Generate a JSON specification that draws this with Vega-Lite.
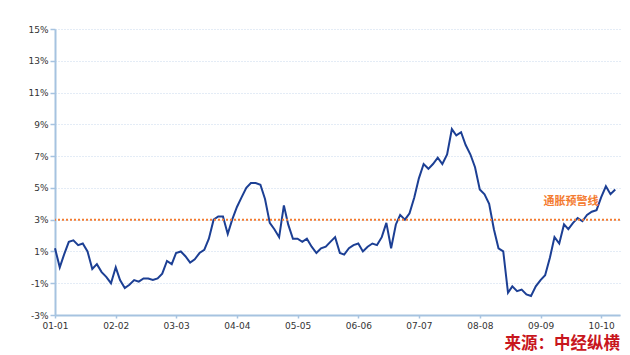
{
  "$schema": "https://vega.github.io/schema/vega-lite/v6.json",
  "width": 565,
  "height": 286,
  "autosize": {"type": "none"},
  "padding": {"left": 55, "top": 29, "right": 10, "bottom": 40},
  "background": "white",
  "config": {"view": {"stroke": null}, "font": "DejaVu Sans"},
  "title": {"text": "来源：中经纵横", "orient": "bottom", "anchor": "end", "frame": "group", "font": "Noto Sans CJK SC", "fontSize": 16.5, "fontWeight": "bold", "color": "#c8161d", "offset": 6},
  "layer": [
    {
      "data": {
        "values": [
          {"month": "2001-01", "cpi": 1.2}, {"month": "2001-02", "cpi": 0.0}, {"month": "2001-03", "cpi": 0.8}, {"month": "2001-04", "cpi": 1.6}, {"month": "2001-05", "cpi": 1.7}, {"month": "2001-06", "cpi": 1.4}, {"month": "2001-07", "cpi": 1.5}, {"month": "2001-08", "cpi": 1.0}, {"month": "2001-09", "cpi": -0.1}, {"month": "2001-10", "cpi": 0.2}, {"month": "2001-11", "cpi": -0.3}, {"month": "2001-12", "cpi": -0.6},
          {"month": "2002-01", "cpi": -1.0}, {"month": "2002-02", "cpi": 0.0}, {"month": "2002-03", "cpi": -0.8}, {"month": "2002-04", "cpi": -1.3}, {"month": "2002-05", "cpi": -1.1}, {"month": "2002-06", "cpi": -0.8}, {"month": "2002-07", "cpi": -0.9}, {"month": "2002-08", "cpi": -0.7}, {"month": "2002-09", "cpi": -0.7}, {"month": "2002-10", "cpi": -0.8}, {"month": "2002-11", "cpi": -0.7}, {"month": "2002-12", "cpi": -0.4},
          {"month": "2003-01", "cpi": 0.4}, {"month": "2003-02", "cpi": 0.2}, {"month": "2003-03", "cpi": 0.9}, {"month": "2003-04", "cpi": 1.0}, {"month": "2003-05", "cpi": 0.7}, {"month": "2003-06", "cpi": 0.3}, {"month": "2003-07", "cpi": 0.5}, {"month": "2003-08", "cpi": 0.9}, {"month": "2003-09", "cpi": 1.1}, {"month": "2003-10", "cpi": 1.8}, {"month": "2003-11", "cpi": 3.0}, {"month": "2003-12", "cpi": 3.2},
          {"month": "2004-01", "cpi": 3.2}, {"month": "2004-02", "cpi": 2.1}, {"month": "2004-03", "cpi": 3.0}, {"month": "2004-04", "cpi": 3.8}, {"month": "2004-05", "cpi": 4.4}, {"month": "2004-06", "cpi": 5.0}, {"month": "2004-07", "cpi": 5.3}, {"month": "2004-08", "cpi": 5.3}, {"month": "2004-09", "cpi": 5.2}, {"month": "2004-10", "cpi": 4.3}, {"month": "2004-11", "cpi": 2.8}, {"month": "2004-12", "cpi": 2.4},
          {"month": "2005-01", "cpi": 1.9}, {"month": "2005-02", "cpi": 3.9}, {"month": "2005-03", "cpi": 2.7}, {"month": "2005-04", "cpi": 1.8}, {"month": "2005-05", "cpi": 1.8}, {"month": "2005-06", "cpi": 1.6}, {"month": "2005-07", "cpi": 1.8}, {"month": "2005-08", "cpi": 1.3}, {"month": "2005-09", "cpi": 0.9}, {"month": "2005-10", "cpi": 1.2}, {"month": "2005-11", "cpi": 1.3}, {"month": "2005-12", "cpi": 1.6},
          {"month": "2006-01", "cpi": 1.9}, {"month": "2006-02", "cpi": 0.9}, {"month": "2006-03", "cpi": 0.8}, {"month": "2006-04", "cpi": 1.2}, {"month": "2006-05", "cpi": 1.4}, {"month": "2006-06", "cpi": 1.5}, {"month": "2006-07", "cpi": 1.0}, {"month": "2006-08", "cpi": 1.3}, {"month": "2006-09", "cpi": 1.5}, {"month": "2006-10", "cpi": 1.4}, {"month": "2006-11", "cpi": 1.9}, {"month": "2006-12", "cpi": 2.8},
          {"month": "2007-01", "cpi": 1.2}, {"month": "2007-02", "cpi": 2.7}, {"month": "2007-03", "cpi": 3.3}, {"month": "2007-04", "cpi": 3.0}, {"month": "2007-05", "cpi": 3.4}, {"month": "2007-06", "cpi": 4.4}, {"month": "2007-07", "cpi": 5.6}, {"month": "2007-08", "cpi": 6.5}, {"month": "2007-09", "cpi": 6.2}, {"month": "2007-10", "cpi": 6.5}, {"month": "2007-11", "cpi": 6.9}, {"month": "2007-12", "cpi": 6.5},
          {"month": "2008-01", "cpi": 7.1}, {"month": "2008-02", "cpi": 8.7}, {"month": "2008-03", "cpi": 8.3}, {"month": "2008-04", "cpi": 8.5}, {"month": "2008-05", "cpi": 7.7}, {"month": "2008-06", "cpi": 7.1}, {"month": "2008-07", "cpi": 6.3}, {"month": "2008-08", "cpi": 4.9}, {"month": "2008-09", "cpi": 4.6}, {"month": "2008-10", "cpi": 4.0}, {"month": "2008-11", "cpi": 2.4}, {"month": "2008-12", "cpi": 1.2},
          {"month": "2009-01", "cpi": 1.0}, {"month": "2009-02", "cpi": -1.6}, {"month": "2009-03", "cpi": -1.2}, {"month": "2009-04", "cpi": -1.5}, {"month": "2009-05", "cpi": -1.4}, {"month": "2009-06", "cpi": -1.7}, {"month": "2009-07", "cpi": -1.8}, {"month": "2009-08", "cpi": -1.2}, {"month": "2009-09", "cpi": -0.8}, {"month": "2009-10", "cpi": -0.5}, {"month": "2009-11", "cpi": 0.6}, {"month": "2009-12", "cpi": 1.9},
          {"month": "2010-01", "cpi": 1.5}, {"month": "2010-02", "cpi": 2.7}, {"month": "2010-03", "cpi": 2.4}, {"month": "2010-04", "cpi": 2.8}, {"month": "2010-05", "cpi": 3.1}, {"month": "2010-06", "cpi": 2.9}, {"month": "2010-07", "cpi": 3.3}, {"month": "2010-08", "cpi": 3.5}, {"month": "2010-09", "cpi": 3.6}, {"month": "2010-10", "cpi": 4.4}, {"month": "2010-11", "cpi": 5.1}, {"month": "2010-12", "cpi": 4.6},
          {"month": "2011-01", "cpi": 4.9}
        ],
        "format": {"parse": {"month": "utc:'%Y-%m'"}}
      },
      "mark": {"type": "line", "color": "#1c3f94", "strokeWidth": 2},
      "encoding": {
        "x": {
          "field": "month", "type": "temporal",
          "scale": {"type": "utc", "domain": [{"year": 2001, "month": 1, "date": 1, "utc": true}, {"year": 2011, "month": 2, "date": 1, "utc": true}]},
          "axis": {
            "title": null,
            "values": [
              {"year": 2001, "month": 1, "date": 1, "utc": true},
              {"year": 2002, "month": 2, "date": 1, "utc": true},
              {"year": 2003, "month": 3, "date": 1, "utc": true},
              {"year": 2004, "month": 4, "date": 1, "utc": true},
              {"year": 2005, "month": 5, "date": 1, "utc": true},
              {"year": 2006, "month": 6, "date": 1, "utc": true},
              {"year": 2007, "month": 7, "date": 1, "utc": true},
              {"year": 2008, "month": 8, "date": 1, "utc": true},
              {"year": 2009, "month": 9, "date": 1, "utc": true},
              {"year": 2010, "month": 10, "date": 1, "utc": true}
            ],
            "tickCount": 30,
            "labelExpr": "utcFormat(datum.value, '%y-%m')",
            "grid": false,
            "domainColor": "#a6c3e0", "domainWidth": 2,
            "tickColor": "#a6c3e0", "tickSize": 3, "tickWidth": 1.5,
            "labelFontSize": 9, "labelColor": "#333333", "labelPadding": 3,
            "labelFlush": false, "labelOverlap": false
          }
        },
        "y": {
          "field": "cpi", "type": "quantitative",
          "scale": {"domain": [-3, 15], "nice": false, "zero": false},
          "axis": {
            "title": null,
            "values": [-3, -1, 1, 3, 5, 7, 9, 11, 13, 15],
            "tickCount": 30,
            "labelExpr": "datum.value + '%'",
            "labelOverlap": false, "labelFlush": false,
            "grid": true, "gridColor": "#c9d9ec", "gridDash": [1, 2], "gridWidth": 1,
            "domainColor": "#a6c3e0", "domainWidth": 2,
            "tickColor": "#a6c3e0", "tickSize": 5, "tickWidth": 1.5,
            "labelFontSize": 9, "labelColor": "#333333", "labelPadding": 2
          }
        }
      }
    },
    {
      "data": {"values": [{"level": 3}]},
      "mark": {"type": "rule", "color": "#f47b30", "strokeDash": [2, 2], "strokeWidth": 2},
      "encoding": {"y": {"field": "level", "type": "quantitative"}}
    },
    {
      "data": {
        "values": [{"label": "通胀预警线", "month": "2010-03-18", "y": 4.1}],
        "format": {"parse": {"month": "utc:'%Y-%m-%d'"}}
      },
      "mark": {"type": "text", "font": "Noto Sans CJK SC", "fontSize": 11, "fontWeight": "bold", "color": "#f47b30", "align": "center", "baseline": "middle"},
      "encoding": {
        "x": {"field": "month", "type": "temporal"},
        "y": {"field": "y", "type": "quantitative"},
        "text": {"field": "label"}
      }
    }
  ]
}
